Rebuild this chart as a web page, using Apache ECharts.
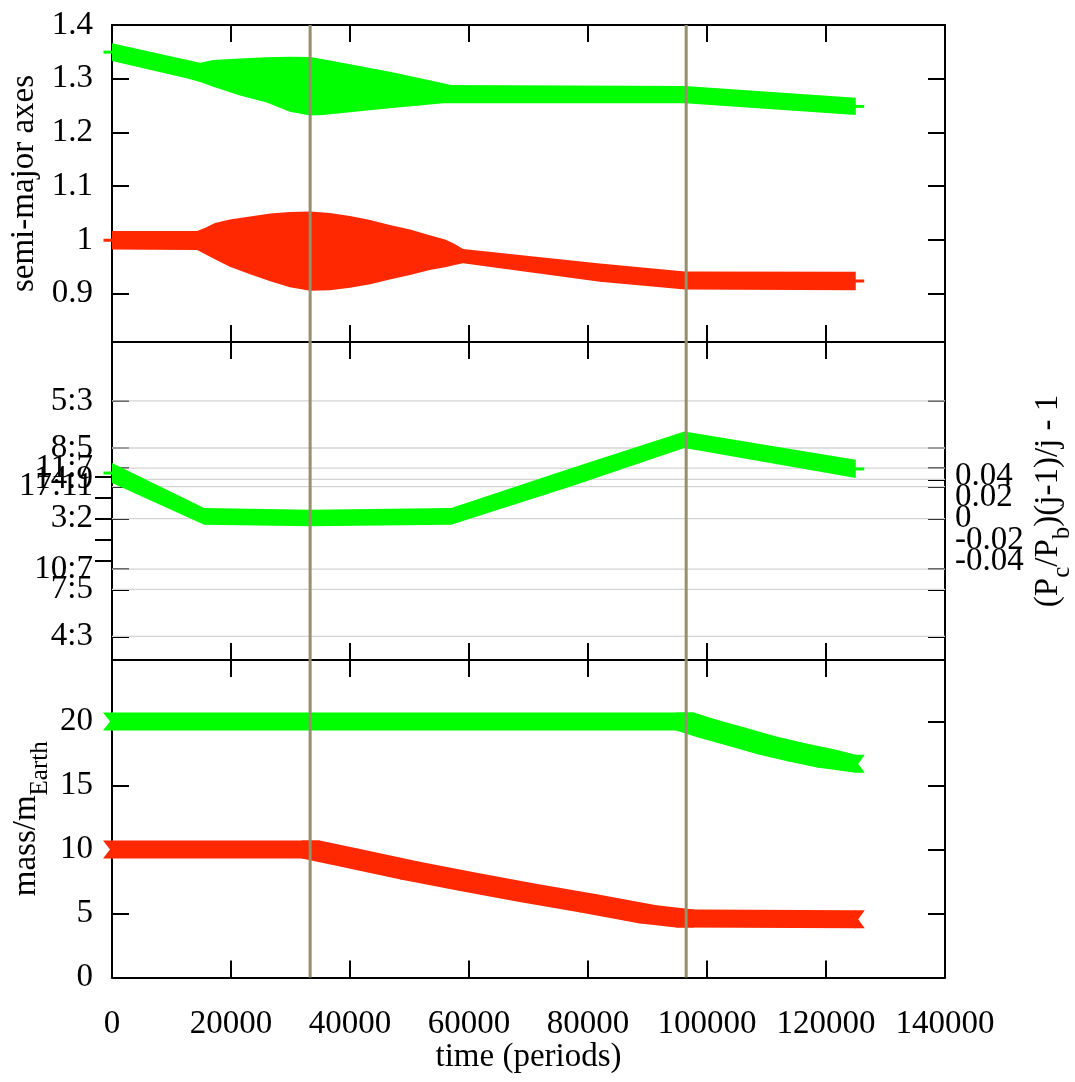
<!DOCTYPE html>
<html><head><meta charset="utf-8">
<script src="https://cdn.jsdelivr.net/npm/echarts@6/dist/echarts.min.js"></script>
<style>html,body{margin:0;padding:0;background:#fff}#c{width:1075px;height:1082px}</style>
</head><body><div id="c"></div>
<script>
// ---------------- data ----------------
const xTicks = [0, 20000, 40000, 60000, 80000, 100000, 120000, 140000];
const eventTimes = [33300, 96500];

// top panel: semi-major axes (outer envelope of the oscillating band)
const aTickValues = [0.9, 1.0, 1.1, 1.2, 1.3, 1.4];
const aTickLabels = ['0.9', '1', '1.1', '1.2', '1.3', '1.4'];
const aGreenT  = [0, 12500, 14800, 17000, 21500, 26000, 29900, 33300, 35500, 40000, 46700, 55700, 57000, 96300, 125000];
const aGreenUp = [1.3659, 1.3352, 1.3298, 1.3348, 1.3376, 1.3399, 1.3408, 1.3404, 1.3361, 1.3268, 1.3130, 1.2914, 1.2883, 1.2864, 1.2646];
const aGreenLo = [1.3330, 1.3007, 1.2939, 1.2851, 1.2687, 1.2557, 1.2385, 1.2315, 1.2324, 1.2374, 1.2449, 1.2542, 1.2542, 1.2542, 1.2324];
const aRedT  = [0, 14300, 15600, 17300, 19800, 23200, 26600, 29900, 33300, 36600, 40000, 43400, 46700, 50100, 53400, 56000, 57600, 59000, 82000, 96300, 125000];
const aRedUp = [1.0164, 1.0164, 1.0220, 1.0313, 1.0378, 1.0438, 1.0490, 1.0518, 1.0527, 1.0499, 1.0443, 1.0369, 1.0276, 1.0192, 1.0089, 1.0006, 0.9922, 0.9829, 0.9562, 0.9410, 0.9406];
const aRedLo = [0.9823, 0.9810, 0.9736, 0.9642, 0.9499, 0.9363, 0.9233, 0.9121, 0.9056, 0.9065, 0.9112, 0.9177, 0.9261, 0.9345, 0.9438, 0.9493, 0.9531, 0.9568, 0.9220, 0.9078, 0.9065];

// middle panel: period ratio
const ratioLabels = ['5:3', '8:5', '11:7', '14:9', '17:11', '3:2', '10:7', '7:5', '4:3'];
const ratioValues = [5/3, 8/5, 11/7, 14/9, 17/11, 3/2, 10/7, 7/5, 4/3];
const offTickValues = [-0.04, -0.02, 0, 0.02, 0.04];
const offTickLabels = ['-0.04', '-0.02', '0', '0.02', '0.04'];
const rT  = [0, 15500, 33300, 57000, 77000, 96200, 125000];
const rUp = [1.5787, 1.5151, 1.5127, 1.5151, 1.5710, 1.6233, 1.5833];
const rLo = [1.5504, 1.4915, 1.4891, 1.4915, 1.5452, 1.5999, 1.5575];

// bottom panel: masses
const mTickValues = [0, 5, 10, 15, 20];
const mGreenT = [0, 96300, 100000, 105000, 110000, 115000, 120000, 125000];
const mGreen  = [20, 20, 19.45, 18.8, 18.15, 17.6, 17.1, 16.7];
const mRedT = [0, 33400, 40000, 50000, 60000, 70000, 80000, 90000, 96300, 125000];
const mRed  = [10, 10, 9.35, 8.35, 7.45, 6.6, 5.8, 4.95, 4.6, 4.55];

// ---------------- styles ----------------
const FONT = 'Liberation Serif';
const FS = 33;
const C_GREEN = '#00ff00', C_RED = '#ff2800', C_EVENT = '#968f6b', C_GRID = '#d4d4d4';
const LS = {color: '#000', width: 2};

function pick(values, labels) {
  return v => { let b = 0; for (let i = 1; i < values.length; i++) if (Math.abs(values[i] - v) < Math.abs(values[b] - v)) b = i; return labels[b]; };
}
function hull(pts) {
  pts = pts.slice().sort((a, b) => a[0] - b[0] || a[1] - b[1]);
  const cr = (o, a, b) => (a[0] - o[0]) * (b[1] - o[1]) - (a[1] - o[1]) * (b[0] - o[0]);
  const lo = [], up = [];
  for (const p of pts) { while (lo.length >= 2 && cr(lo[lo.length - 2], lo[lo.length - 1], p) <= 0) lo.pop(); lo.push(p); }
  for (let i = pts.length - 1; i >= 0; i--) { const p = pts[i]; while (up.length >= 2 && cr(up[up.length - 2], up[up.length - 1], p) <= 0) up.pop(); up.push(p); }
  up.pop(); lo.pop(); return lo.concat(up);
}

// band drawn as envelope polygon with '+' arm tips at both ends
function bandRender(T, UP, LO, color) {
  return (params, api) => {
    const top = T.map((t, i) => api.coord([t, UP[i]]));
    const bot = T.map((t, i) => api.coord([t, LO[i]])).reverse();
    const n = T.length - 1;
    const p0 = api.coord([T[0], (UP[0] + LO[0]) / 2]);
    const pn = api.coord([T[n], (UP[n] + LO[n]) / 2]);
    return {type: 'group', children: [
      {type: 'polygon', shape: {points: top.concat(bot)}, style: {fill: color}},
      {type: 'line', shape: {x1: p0[0] - 8.5, y1: p0[1], x2: p0[0] + 1, y2: p0[1]}, style: {stroke: color, lineWidth: 3}},
      {type: 'line', shape: {x1: pn[0] - 1, y1: pn[1], x2: pn[0] + 8.5, y2: pn[1]}, style: {stroke: color, lineWidth: 3}}
    ]};
  };
}
// thick track of dense 'x' markers
function xTrackRender(T, M, color) {
  return (params, api) => {
    const h = 9;
    const P = T.map((t, i) => api.coord([t, M[i]]));
    const children = [];
    const sq = p => [[p[0] - h, p[1] - h], [p[0] + h, p[1] - h], [p[0] + h, p[1] + h], [p[0] - h, p[1] + h]];
    const vs = p => [[p[0], p[1] - h], [p[0], p[1] + h]];
    for (let i = 0; i < P.length - 1; i++) {
      const a = i === 0 ? vs(P[i]) : sq(P[i]);
      const b = i === P.length - 2 ? vs(P[i + 1]) : sq(P[i + 1]);
      children.push({type: 'polygon', shape: {points: hull(a.concat(b))}, style: {fill: color}});
    }
    const f = P[0], l = P[P.length - 1];
    children.push({type: 'polygon', shape: {points: [[f[0] + 1, f[1] - h], [f[0] - h, f[1] - h], [f[0] - 2, f[1]], [f[0] - h, f[1] + h], [f[0] + 1, f[1] + h]]}, style: {fill: color}});
    children.push({type: 'polygon', shape: {points: [[l[0] - 1, l[1] - h], [l[0] + h, l[1] - h], [l[0] + 2.5, l[1]], [l[0] + h, l[1] + h], [l[0] - 1, l[1] + h]]}, style: {fill: color}});
    return {type: 'group', children};
  };
}
function eventRender(params, api) {
  const cs = params.coordSys;
  return {type: 'group', children: eventTimes.map(t => {
    const x = api.coord([t, api.value(1)])[0];
    return {type: 'line', shape: {x1: x, y1: cs.y, x2: x, y2: cs.y + cs.height}, style: {stroke: C_EVENT, lineWidth: 3}};
  })};
}
function gridRender(params, api) {
  return {type: 'group', children: ratioValues.map(v => {
    const a = api.coord([0, v]), b = api.coord([140000, v]);
    return {type: 'line', shape: {x1: a[0], y1: a[1], x2: b[0], y2: b[1]}, style: {stroke: C_GRID, lineWidth: 1.3}};
  })};
}

function xAx(g, pos, withLabels) {
  const o = {type: 'value', gridIndex: g, position: pos, min: xTicks[0], max: xTicks[xTicks.length - 1], interval: 20000,
    axisLine: {show: true, onZero: false, lineStyle: LS},
    axisTick: {show: true, inside: true, length: 17, lineStyle: LS, customValues: xTicks},
    axisLabel: {show: false}, splitLine: {show: false}};
  if (withLabels) {
    o.axisLabel = {show: true, customValues: xTicks, formatter: v => String(Math.round(v)), margin: 30, fontFamily: FONT, fontSize: FS, color: '#000', hideOverlap: false, showMinLabel: true, showMaxLabel: true};
    o.name = 'time (periods)'; o.nameLocation = 'middle'; o.nameGap = 63;
    o.nameTextStyle = {fontFamily: FONT, fontSize: FS, color: '#000'};
    o.nameMoveOverlap = false;
  }
  return o;
}
function yAx(g, pos, min, max, ticks, labels, extra) {
  const o = {type: 'value', gridIndex: g, position: pos, min, max,
    axisLine: {show: true, onZero: false, lineStyle: LS},
    axisTick: {show: true, inside: true, length: 17, lineStyle: LS, customValues: ticks},
    axisLabel: labels ? {show: true, customValues: ticks, formatter: pick(ticks, labels), fontFamily: FONT, fontSize: FS, color: '#000', margin: 19, hideOverlap: false, showMinLabel: true, showMaxLabel: true} : {show: false},
    splitLine: {show: false}, nameMoveOverlap: false};
  return Object.assign(o, extra || {});
}
// right-hand offset axis: split into two so that every label is kept
function offAx(parity, withName) {
  const vals = offTickValues.filter((v, i) => i % 2 === parity);
  const labs = offTickLabels.filter((v, i) => i % 2 === parity);
  const extra = {
    axisLine: {show: false},
    axisLabel: {show: true, customValues: vals, formatter: pick(vals, labs), fontFamily: FONT, fontSize: FS, color: '#000', margin: 10, padding: [0, 0, 10, 0], hideOverlap: false, showMinLabel: true, showMaxLabel: true}
  };
  if (withName) Object.assign(extra, {
    name: '{m|(P}{s|c}{m|/P}{s|b}{m|)(j-1)/j - 1}', nameLocation: 'middle', nameRotate: 90, nameGap: 87,
    nameTextStyle: {rich: richStyle}
  });
  return yAx(1, 'right', -0.133333, 0.166667, vals, null, extra);
}

const nameStyle = {fontFamily: FONT, fontSize: FS, color: '#000', lineHeight: 36};
const richStyle = {
  m: {fontFamily: FONT, fontSize: FS, color: '#000', lineHeight: 36, verticalAlign: 'top'},
  s: {fontFamily: FONT, fontSize: 25, color: '#000', lineHeight: 25, verticalAlign: 'top', padding: [18, 0, 0, 0]}
};

const option = {
  animation: false,
  backgroundColor: '#fff',
  grid: [
    {left: 112, top: 25, width: 833, height: 317, outerBoundsMode: 'none', containLabel: false},
    {left: 112, top: 342, width: 833, height: 318, outerBoundsMode: 'none', containLabel: false},
    {left: 112, top: 660, width: 833, height: 317.5, outerBoundsMode: 'none', containLabel: false}
  ],
  xAxis: [xAx(0, 'bottom'), xAx(0, 'top'), xAx(1, 'bottom'), xAx(1, 'top'), xAx(2, 'bottom', true), xAx(2, 'top')],
  yAxis: [
    yAx(0, 'left', 0.81, 1.4, aTickValues, aTickLabels, {name: 'semi-major axes', nameLocation: 'middle', nameRotate: 90, nameGap: 70, nameTextStyle: nameStyle}),
    yAx(0, 'right', 0.81, 1.4, aTickValues, null),
    yAx(1, 'left', 1.3, 1.75, ratioValues, ratioLabels),
    yAx(1, 'right', 1.3, 1.75, ratioValues, null),
    offAx(0, true),
    offAx(1, false),
    yAx(2, 'left', 0, 24.8, mTickValues, mTickValues.map(String), {name: '{m|mass/m}{s|Earth}', nameLocation: 'middle', nameRotate: 90, nameGap: 66, nameTextStyle: {rich: richStyle}}),
    yAx(2, 'right', 0, 24.8, mTickValues, null)
  ],
  series: [
    {type: 'custom', xAxisIndex: 2, yAxisIndex: 2, z: 1, silent: true, clip: false, data: [[0, 1.5]], renderItem: gridRender},
    {type: 'custom', xAxisIndex: 0, yAxisIndex: 0, z: 2, silent: true, clip: false, data: [[0, 1.1]], renderItem: bandRender(aGreenT, aGreenUp, aGreenLo, C_GREEN)},
    {type: 'custom', xAxisIndex: 0, yAxisIndex: 0, z: 2, silent: true, clip: false, data: [[0, 1.1]], renderItem: bandRender(aRedT, aRedUp, aRedLo, C_RED)},
    {type: 'custom', xAxisIndex: 2, yAxisIndex: 2, z: 2, silent: true, clip: false, data: [[0, 1.5]], renderItem: bandRender(rT, rUp, rLo, C_GREEN)},
    {type: 'custom', xAxisIndex: 4, yAxisIndex: 6, z: 2, silent: true, clip: false, data: [[0, 10]], renderItem: xTrackRender(mGreenT, mGreen, C_GREEN)},
    {type: 'custom', xAxisIndex: 4, yAxisIndex: 6, z: 2, silent: true, clip: false, data: [[0, 10]], renderItem: xTrackRender(mRedT, mRed, C_RED)},
    {type: 'custom', xAxisIndex: 0, yAxisIndex: 0, z: 3, silent: true, data: [[0, 1.1]], renderItem: eventRender},
    {type: 'custom', xAxisIndex: 2, yAxisIndex: 2, z: 3, silent: true, data: [[0, 1.5]], renderItem: eventRender},
    {type: 'custom', xAxisIndex: 4, yAxisIndex: 6, z: 3, silent: true, data: [[0, 10]], renderItem: eventRender}
  ]
};
echarts.init(document.getElementById('c'), null, {renderer: 'canvas'}).setOption(option);
</script>
</body></html>
